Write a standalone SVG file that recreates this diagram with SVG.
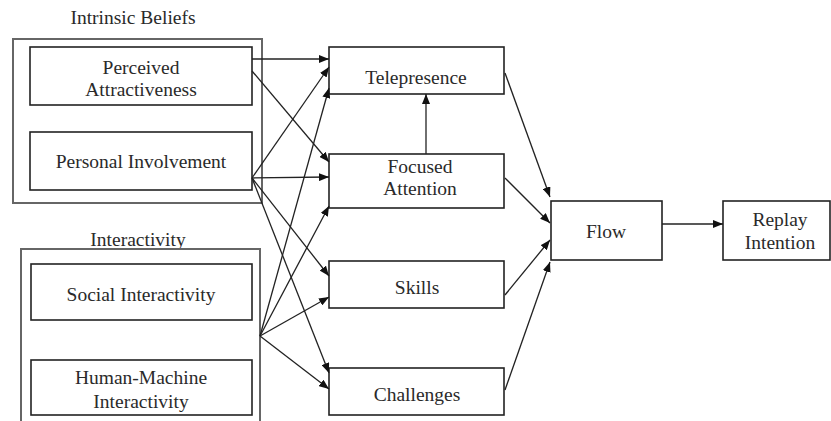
<svg xmlns="http://www.w3.org/2000/svg" width="831" height="421" viewBox="0 0 831 421">
  <style>
    .box { fill: #fff; stroke: #222; stroke-width: 1.6; }
    .group { fill: none; stroke: #666; stroke-width: 2; }
    .lbl { font-family: "Liberation Serif", "Times New Roman", serif; font-size: 19.5px; fill: #2a2a2a; text-anchor: middle; }
    .edge { fill: none; stroke: #222; stroke-width: 1.3; marker-end: url(#arrow); }
  </style>
  <defs>
    <marker id="arrow" markerUnits="userSpaceOnUse" markerWidth="11" markerHeight="8" refX="10" refY="4" orient="auto">
      <path d="M0,0 L10,4 L0,8 z" fill="#111"/>
    </marker>
  </defs>
  <rect width="831" height="421" fill="#fff"/>

  <!-- construct groups -->
  <g id="intrinsic-beliefs">
    <text class="lbl" x="133" y="24" font-family="Liberation Serif, serif">Intrinsic Beliefs</text>
    <rect class="group" x="13" y="39" width="249" height="164"/>
  </g>
  <g id="interactivity">
    <text class="lbl" x="138" y="246" font-family="Liberation Serif, serif">Interactivity</text>
    <rect class="group" x="21" y="249" width="239" height="190"/>
  </g>

  <!-- nodes -->
  <g id="perceived-attractiveness">
    <rect class="box" x="30" y="47" width="222" height="58"/>
    <text class="lbl" x="141" y="74" font-family="Liberation Serif, serif">Perceived</text>
    <text class="lbl" x="141" y="96" font-family="Liberation Serif, serif">Attractiveness</text>
  </g>
  <g id="personal-involvement">
    <rect class="box" x="30" y="132" width="222" height="58"/>
    <text class="lbl" x="141" y="168" font-family="Liberation Serif, serif">Personal Involvement</text>
  </g>
  <g id="social-interactivity">
    <rect class="box" x="31" y="264" width="221" height="56"/>
    <text class="lbl" x="141" y="301" font-family="Liberation Serif, serif">Social Interactivity</text>
  </g>
  <g id="human-machine-interactivity">
    <rect class="box" x="31" y="360" width="221" height="55"/>
    <text class="lbl" x="141" y="384" font-family="Liberation Serif, serif">Human-Machine</text>
    <text class="lbl" x="141" y="408" font-family="Liberation Serif, serif">Interactivity</text>
  </g>
  <g id="telepresence">
    <rect class="box" x="329" y="47" width="175" height="47"/>
    <text class="lbl" x="416" y="84" font-family="Liberation Serif, serif">Telepresence</text>
  </g>
  <g id="focused-attention">
    <rect class="box" x="329" y="154" width="175" height="54"/>
    <text class="lbl" x="420" y="173" font-family="Liberation Serif, serif">Focused</text>
    <text class="lbl" x="420" y="195" font-family="Liberation Serif, serif">Attention</text>
  </g>
  <g id="skills">
    <rect class="box" x="329" y="261" width="175" height="47"/>
    <text class="lbl" x="417" y="294" font-family="Liberation Serif, serif">Skills</text>
  </g>
  <g id="challenges">
    <rect class="box" x="329" y="368" width="175" height="47"/>
    <text class="lbl" x="417" y="401" font-family="Liberation Serif, serif">Challenges</text>
  </g>
  <g id="flow">
    <rect class="box" x="551" y="201" width="111" height="59"/>
    <text class="lbl" x="606" y="238" font-family="Liberation Serif, serif">Flow</text>
  </g>
  <g id="replay-intention">
    <rect class="box" x="723" y="201" width="107" height="59"/>
    <text class="lbl" x="780" y="226" font-family="Liberation Serif, serif">Replay</text>
    <text class="lbl" x="780" y="249" font-family="Liberation Serif, serif">Intention</text>
  </g>

  <!-- connectors -->
  <g id="connectors">
    <path class="edge" d="M252,59 L329,59"/>
    <path class="edge" d="M252,71 L329,162"/>
    <path class="edge" d="M252,178 L329,67"/>
    <path class="edge" d="M252,178 L329,177"/>
    <path class="edge" d="M252,178 L329,276"/>
    <path class="edge" d="M252,178 L329,373"/>
    <path class="edge" d="M260,336 L329,88"/>
    <path class="edge" d="M260,336 L329,206"/>
    <path class="edge" d="M260,336 L329,297"/>
    <path class="edge" d="M260,336 L329,389"/>
    <path class="edge" d="M426,154 L426,94"/>
    <path class="edge" d="M505,73 L550,197"/>
    <path class="edge" d="M505,178 L550,223"/>
    <path class="edge" d="M505,295 L550,240"/>
    <path class="edge" d="M505,390 L550,262"/>
    <path class="edge" d="M662,224 L723,224"/>
  </g>
</svg>
